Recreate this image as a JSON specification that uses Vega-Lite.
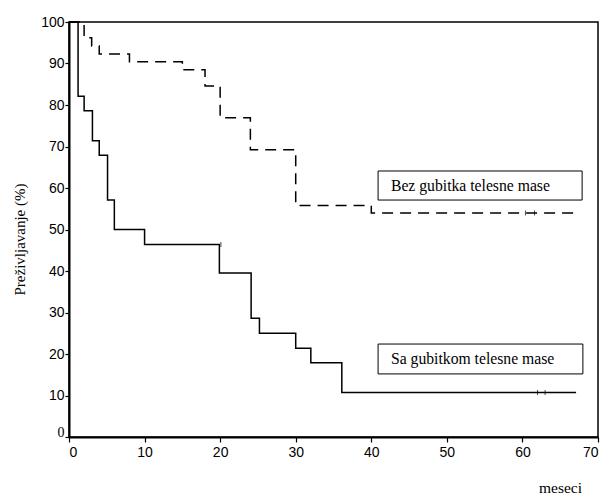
{
  "$schema": "https://vega.github.io/schema/vega-lite/v6.json",
  "width": 529,
  "height": 415,
  "autosize": "none",
  "padding": {"left": 69, "top": 22, "right": 8, "bottom": 57},
  "background": "white",
  "config": {
    "view": {"stroke": "black", "strokeWidth": 1.5},
    "axis": {"grid": false, "domainColor": "black", "domainWidth": 2, "tickColor": "black", "tickWidth": 1.2, "labelColor": "black", "labelFont": "Arial, 'Liberation Sans', Helvetica, sans-serif", "labelFontSize": 14, "titleFont": "'Times New Roman', 'Liberation Serif', 'DejaVu Serif', serif", "titleFontWeight": "normal", "titleFontSize": 15, "titleColor": "black"}
  },
  "datasets": {
    "km": [
      {"t": 0, "s": 100, "g": "Bez gubitka telesne mase"},
      {"t": 2, "s": 96.2, "g": "Bez gubitka telesne mase"},
      {"t": 3, "s": 94.2, "g": "Bez gubitka telesne mase"},
      {"t": 4, "s": 92.3, "g": "Bez gubitka telesne mase"},
      {"t": 8, "s": 90.4, "g": "Bez gubitka telesne mase"},
      {"t": 15, "s": 88.5, "g": "Bez gubitka telesne mase"},
      {"t": 18, "s": 84.6, "g": "Bez gubitka telesne mase"},
      {"t": 20, "s": 76.9, "g": "Bez gubitka telesne mase"},
      {"t": 24, "s": 69.2, "g": "Bez gubitka telesne mase"},
      {"t": 30, "s": 55.8, "g": "Bez gubitka telesne mase"},
      {"t": 40, "s": 54.0, "g": "Bez gubitka telesne mase"},
      {"t": 67, "s": 54.0, "g": "Bez gubitka telesne mase"},
      {"t": 0, "s": 100, "g": "Sa gubitkom telesne mase"},
      {"t": 1.2, "s": 82.1, "g": "Sa gubitkom telesne mase"},
      {"t": 2, "s": 78.6, "g": "Sa gubitkom telesne mase"},
      {"t": 3.1, "s": 71.4, "g": "Sa gubitkom telesne mase"},
      {"t": 4, "s": 67.9, "g": "Sa gubitkom telesne mase"},
      {"t": 5.1, "s": 57.1, "g": "Sa gubitkom telesne mase"},
      {"t": 6, "s": 50.0, "g": "Sa gubitkom telesne mase"},
      {"t": 10, "s": 46.4, "g": "Sa gubitkom telesne mase"},
      {"t": 19.9, "s": 39.5, "g": "Sa gubitkom telesne mase"},
      {"t": 24.1, "s": 28.6, "g": "Sa gubitkom telesne mase"},
      {"t": 25.2, "s": 25.0, "g": "Sa gubitkom telesne mase"},
      {"t": 30, "s": 21.4, "g": "Sa gubitkom telesne mase"},
      {"t": 32, "s": 17.9, "g": "Sa gubitkom telesne mase"},
      {"t": 36.1, "s": 10.7, "g": "Sa gubitkom telesne mase"},
      {"t": 67.1, "s": 10.7, "g": "Sa gubitkom telesne mase"}
    ],
    "boxes": [
      {"x1": 40.9, "x2": 67.9, "y1": 57.1, "y2": 64.1, "tx": 42.6, "ty": 60.6, "label": "Bez gubitka telesne mase"},
      {"x1": 40.9, "x2": 68.0, "y1": 15.2, "y2": 22.4, "tx": 42.6, "ty": 18.8, "label": "Sa gubitkom telesne mase"}
    ],
    "censor": [
      {"t": 20.1, "s": 46.4},
      {"t": 60.4, "s": 54.0},
      {"t": 61.6, "s": 54.0},
      {"t": 62.0, "s": 10.7},
      {"t": 63.0, "s": 10.7}
    ]
  },
  "layer": [
    {
      "data": {"name": "km"},
      "mark": {"type": "line", "interpolate": "step-after", "color": "black", "strokeWidth": 1.5},
      "encoding": {
        "x": {"field": "t", "type": "quantitative", "scale": {"domain": [0, 70], "nice": false},
          "axis": {"values": [0, 10, 20, 30, 40, 50, 60, 70], "tickSize": 5, "labelPadding": 3, "title": "meseci", "titleX": 491, "titleY": 50, "titleBaseline": "middle", "titleAlign": "center", "titleFontSize": 15.5}},
        "y": {"field": "s", "type": "quantitative", "scale": {"domain": [0, 100], "nice": false},
          "axis": {"values": [0, 10, 20, 30, 40, 50, 60, 70, 80, 90, 100], "tickSize": 4, "labelPadding": 1,
            "labelFont": {"condition": {"test": "datum.value === 0", "value": "'Times New Roman', 'Liberation Serif', serif"}, "value": "Arial, 'Liberation Sans', sans-serif"},
            "labelOffset": {"condition": {"test": "datum.value === 0", "value": -5}, "value": 0},
            "title": "Preživljavanje (%)", "titleX": -50, "titleY": 217, "titleAngle": -90, "titleAlign": "center", "titleBaseline": "middle"}},
        "detail": {"field": "g", "type": "nominal"},
        "strokeDash": {"field": "g", "type": "nominal", "legend": null,
          "scale": {"domain": ["Bez gubitka telesne mase", "Sa gubitkom telesne mase"], "range": [[11, 7], [1, 0]]}}
      }
    },
    {
      "data": {"name": "censor"},
      "mark": {"type": "tick", "orient": "vertical", "color": "black", "size": 5, "thickness": 1},
      "encoding": {
        "x": {"field": "t", "type": "quantitative"},
        "y": {"field": "s", "type": "quantitative"}
      }
    },
    {
      "data": {"name": "boxes"},
      "mark": {"type": "rect", "fill": "white", "stroke": "black", "strokeWidth": 1},
      "encoding": {
        "x": {"field": "x1", "type": "quantitative"},
        "x2": {"field": "x2"},
        "y": {"field": "y1", "type": "quantitative"},
        "y2": {"field": "y2"}
      }
    },
    {
      "data": {"name": "boxes"},
      "mark": {"type": "text", "align": "left", "baseline": "middle", "font": "'Times New Roman', 'Liberation Serif', 'DejaVu Serif', serif", "fontSize": 15.7, "color": "black"},
      "encoding": {
        "x": {"field": "tx", "type": "quantitative"},
        "y": {"field": "ty", "type": "quantitative"},
        "text": {"field": "label"}
      }
    }
  ]
}
